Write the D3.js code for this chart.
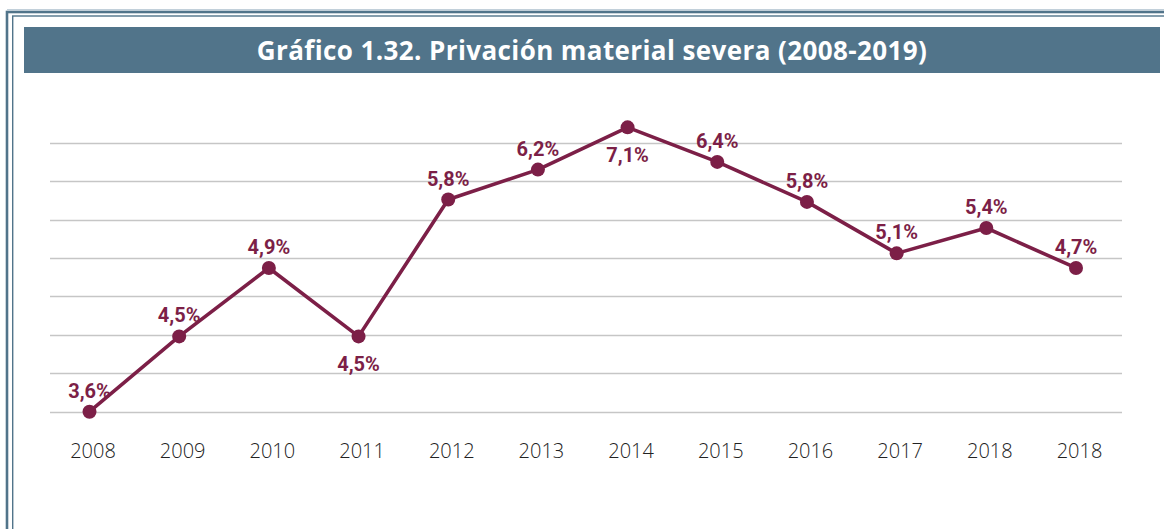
<!DOCTYPE html>
<html>
<head>
<meta charset="utf-8">
<script src="https://cdn.jsdelivr.net/npm/d3@7"></script>
<style>
  html, body { margin: 0; padding: 0; background: #fff; }
  svg { display: block; }
</style>
</head>
<body>
<svg id="chart" width="1164" height="529"></svg>
<script>
// ---- data ----
const titleText = "Gráfico 1.32. Privación material severa (2008-2019)";
const years = ["2008", "2009", "2010", "2011", "2012", "2013", "2014", "2015", "2016", "2017", "2018", "2018"];
// vertical positions of the markers as drawn in the picture (gridline scale)
const plotted = [3.50, 4.48, 5.37, 4.48, 6.26, 6.65, 7.20, 6.75, 6.23, 5.56, 5.89, 5.37];
// printed data labels
const labels = ["3,6%", "4,5%", "4,9%", "4,5%", "5,8%", "6,2%", "7,1%", "6,4%", "5,8%", "5,1%", "5,4%", "4,7%"];
const labelSide = ["above", "above", "above", "below", "above", "above", "below", "above", "above", "above", "above", "above"];
const gridValues = [3.5, 4.0, 4.5, 5.0, 5.5, 6.0, 6.5, 7.0];

// ---- layout ----
const W = 1164, H = 529;
const svg = d3.select("#chart");
const frameColor = "#51748a";
const lineColor = "#7c1f47";

// frame
svg.append("rect").attr("x", 7).attr("y", 12).attr("width", W + 20).attr("height", H + 20)
  .attr("fill", "none").attr("stroke", frameColor).attr("stroke-width", 2.6);
svg.append("line").attr("x1", 7).attr("x2", W).attr("y1", 9.8).attr("y2", 9.8)
  .attr("stroke", "#a9bccb").attr("stroke-width", 1);
svg.append("rect").attr("x", 12.7).attr("y", 16).attr("width", W + 20).attr("height", H + 20)
  .attr("fill", "none").attr("stroke", frameColor).attr("stroke-width", 1.4);

// title bar
svg.append("rect").attr("x", 24).attr("y", 27).attr("width", 1136).attr("height", 46)
  .attr("fill", frameColor);
svg.append("text").attr("x", 592).attr("y", 60).attr("text-anchor", "middle")
  .attr("font-family", "'Open Sans', sans-serif").attr("font-weight", 700)
  .attr("font-size", 26).attr("letter-spacing", 0.4).attr("fill", "#fff").text(titleText);

// scales
const x = d3.scalePoint().domain(d3.range(years.length)).range([89.5, 1076]);
const y = d3.scaleLinear().domain([3.5, 7.0]).range([411.7, 142.7]);

// gridlines
svg.append("g").selectAll("line").data(gridValues).join("line")
  .attr("x1", 50).attr("x2", 1122)
  .attr("y1", d => Math.round(y(d)) + 0.5).attr("y2", d => Math.round(y(d)) + 0.5)
  .attr("stroke", "#c6c6c6").attr("stroke-width", 1.3);

// x axis labels
const xAxis = d3.axisBottom(x).tickSize(0).tickPadding(0).tickFormat(i => years[i]);
const gx = svg.append("g").attr("transform", "translate(3,440)").call(xAxis);
gx.select(".domain").remove();
gx.selectAll("text").attr("font-family", "'Open Sans', sans-serif").attr("font-weight", 300)
  .attr("font-size", 20).attr("fill", "#222").attr("dy", "0.9em");

// line
const line = d3.line().x((d, i) => x(i)).y(d => y(d));
svg.append("path").datum(plotted).attr("d", line)
  .attr("fill", "none").attr("stroke", lineColor).attr("stroke-width", 3.6)
  .attr("stroke-linejoin", "round");

// points
svg.append("g").selectAll("circle").data(plotted).join("circle")
  .attr("cx", (d, i) => x(i)).attr("cy", d => y(d)).attr("r", 7)
  .attr("fill", lineColor);

// labels
svg.append("g").selectAll("text").data(plotted).join("text")
  .attr("x", (d, i) => x(i)).attr("text-anchor", "middle")
  .attr("y", (d, i) => labelSide[i] === "above" ? y(d) - 14 : y(d) + 35)
  .attr("font-family", "Roboto, sans-serif").attr("font-weight", 700)
  .attr("font-size", 20).attr("fill", lineColor)
  .text((d, i) => labels[i]);
</script>
</body>
</html>
